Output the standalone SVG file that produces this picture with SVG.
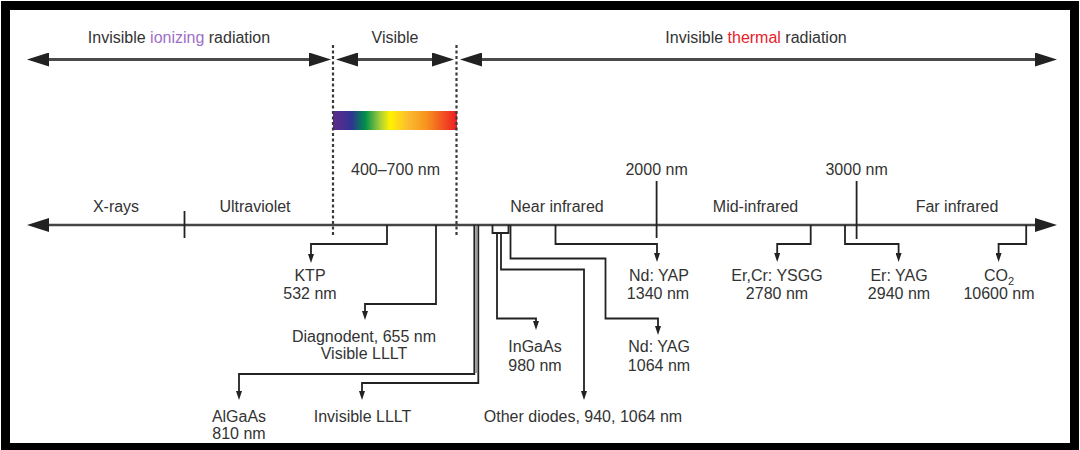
<svg xmlns="http://www.w3.org/2000/svg" width="1080" height="450" viewBox="0 0 1080 450">
  <style>
    text { font-family: "Liberation Sans", Arial, sans-serif; font-size: 16px; fill: #333; text-anchor: middle; }
    .ion { fill: #9d6fc9; }
    .therm { fill: #e8202a; }
    .band { fill: none; stroke: #4a4a4a; stroke-width: 3; }
    .axis { fill: none; stroke: #444; stroke-width: 2.6; }
    .conn { fill: none; stroke: #222; stroke-width: 1.8; }
    .dot { fill: none; stroke: #3a3a3a; stroke-width: 2.2; stroke-dasharray: 3 2.5; }
  </style>
  <defs>
    <marker id="big" viewBox="0 0 22 14" refX="14" refY="7" markerWidth="22" markerHeight="14" markerUnits="userSpaceOnUse" orient="auto-start-reverse">
      <path d="M0,0 L22,7 L0,14 z" fill="#222"/>
    </marker>
    <marker id="small" viewBox="0 0 9 6" refX="5" refY="3" markerWidth="9" markerHeight="6" markerUnits="userSpaceOnUse" orient="auto">
      <path d="M0,0 L9,3 L0,6 z" fill="#222"/>
    </marker>
    <linearGradient id="rainbow" x1="0" y1="0" x2="1" y2="0">
      <stop offset="0" stop-color="#5a2d8c"/>
      <stop offset="0.08" stop-color="#4b2e90"/>
      <stop offset="0.15" stop-color="#2d3592"/>
      <stop offset="0.26" stop-color="#00904a"/>
      <stop offset="0.38" stop-color="#a6ce39"/>
      <stop offset="0.46" stop-color="#fff200"/>
      <stop offset="0.6" stop-color="#fbbd30"/>
      <stop offset="0.75" stop-color="#f7941d"/>
      <stop offset="1" stop-color="#ed1c24"/>
    </linearGradient>
  </defs>

  <rect x="0" y="0" width="1080" height="450" fill="#fff"/>
  <rect id="frame" x="5.5" y="5.5" width="1069" height="442" fill="none" stroke="#000" stroke-width="9"/>

  <g id="bands">
    <path class="band" d="M35,59.5 H323" marker-start="url(#big)" marker-end="url(#big)"/>
    <path class="band" d="M344,59.5 H446" marker-start="url(#big)" marker-end="url(#big)"/>
    <path class="band" d="M468,59.5 H1049" marker-start="url(#big)" marker-end="url(#big)"/>
  </g>

  <g id="node-ionizing"><text x="179" y="43">Invisible <tspan class="ion">ionizing</tspan> radiation</text></g>
  <g id="node-visible"><text x="395" y="43">Visible</text></g>
  <g id="node-thermal"><text x="756" y="43">Invisible <tspan class="therm">thermal</tspan> radiation</text></g>

  <g id="spectrum-bar"><rect x="333" y="111" width="124" height="19" fill="url(#rainbow)"/></g>

  <g id="dividers">
    <path class="dot" d="M333,45 V236"/>
    <path class="dot" d="M456.5,45 V236"/>
  </g>

  <g id="node-range"><text x="395.5" y="175">400–700 nm</text></g>
  <g id="node-2000"><text x="656.6" y="175">2000 nm</text></g>
  <g id="node-3000"><text x="856.6" y="175">3000 nm</text></g>

  <g id="node-xrays"><text x="116" y="212">X-rays</text></g>
  <g id="node-uv"><text x="255" y="212">Ultraviolet</text></g>
  <g id="node-nir"><text x="557" y="212">Near infrared</text></g>
  <g id="node-mir"><text x="755.5" y="212">Mid-infrared</text></g>
  <g id="node-fir"><text x="957" y="212">Far infrared</text></g>

  <g id="axis">
    <path class="axis" d="M35,225 H1049" marker-start="url(#big)" marker-end="url(#big)"/>
  </g>

  <g id="connectors">
    <path class="conn" d="M184.5,211 V238"/>
    <path class="conn" d="M656.6,181 V238"/>
    <path class="conn" d="M856.6,181 V239"/>
    <path class="conn" d="M387,225 V244 H311 V259" marker-end="url(#small)"/>
    <path class="conn" d="M436,225 V304 H365 V316" marker-end="url(#small)"/>
    <path class="conn" d="M474.3,225 V374 H239 V396" marker-end="url(#small)"/>
    <path class="conn" d="M478.3,225 V383 H362 V396" marker-end="url(#small)"/>
    <path d="M476.3,226 V373" stroke="#999" stroke-width="2.2" fill="none"/>
    <path class="conn" d="M492.5,225 V233 H508.5 V225"/>
    <path class="conn" d="M497,233 V318.5 H536 V326" marker-end="url(#small)"/>
    <path class="conn" d="M501,233 V269.5 H584 V396" marker-end="url(#small)"/>
    <path class="conn" d="M510.5,225 V258.5 H605.5 V318.5 H658 V331" marker-end="url(#small)"/>
    <path class="conn" d="M555.5,225 V244 H657 V258" marker-end="url(#small)"/>
    <path class="conn" d="M810.7,225 V244 H777.2 V258" marker-end="url(#small)"/>
    <path class="conn" d="M845,225 V244 H898.6 V258" marker-end="url(#small)"/>
    <path class="conn" d="M1026.2,225 V244 H998.6 V258" marker-end="url(#small)"/>
  </g>

  <g id="node-ktp"><text x="310" y="281">KTP</text><text x="310" y="299">532 nm</text></g>
  <g id="node-ndyap"><text x="659" y="281">Nd: YAP</text><text x="658" y="299">1340 nm</text></g>
  <g id="node-ercrysgg"><text x="777" y="281">Er,Cr: YSGG</text><text x="777" y="299">2780 nm</text></g>
  <g id="node-eryag"><text x="899" y="281">Er: YAG</text><text x="899" y="299">2940 nm</text></g>
  <g id="node-co2"><text x="999" y="281">CO<tspan font-size="11" dy="4">2</tspan></text><text x="999" y="299">10600 nm</text></g>
  <g id="node-diagnodent"><text x="364" y="342">Diagnodent, 655 nm</text><text x="364" y="359">Visible LLLT</text></g>
  <g id="node-ingaas"><text x="535" y="352">InGaAs</text><text x="535" y="371">980 nm</text></g>
  <g id="node-ndyag"><text x="659" y="352">Nd: YAG</text><text x="659" y="371">1064 nm</text></g>
  <g id="node-algaas"><text x="239" y="422">AlGaAs</text><text x="239" y="439">810 nm</text></g>
  <g id="node-invisible-lllt"><text x="362.5" y="422">Invisible LLLT</text></g>
  <g id="node-other-diodes"><text x="583" y="422">Other diodes, 940, 1064 nm</text></g>
</svg>
